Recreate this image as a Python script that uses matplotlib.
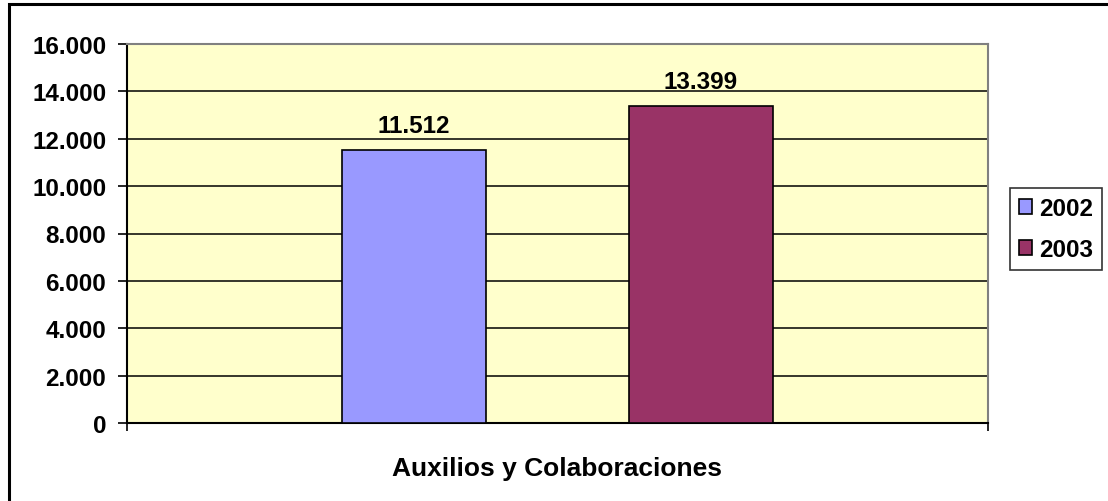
import matplotlib.pyplot as plt
from matplotlib.patches import Rectangle

plt.rcParams['font.family'] = ['Liberation Sans', 'DejaVu Sans']
plt.rcParams['font.weight'] = 'bold'

years = ['2002', '2003']
values = [11512, 13399]
labels = ['11.512', '13.399']
colors = ['#9999FF', '#993366']
category = 'Auxilios y Colaboraciones'
yticks = [0, 2000, 4000, 6000, 8000, 10000, 12000, 14000, 16000]
ytick_labels = ['0', '2.000', '4.000', '6.000', '8.000', '10.000', '12.000', '14.000', '16.000']

fs = 17.5

fig = plt.figure(figsize=(11.08, 5.02), dpi=100)
# outer chart border (only left/top visible in the reference)
fig.patches.append(Rectangle((9/1108, -0.05), 1.1, (502-5)/502 + 0.05, transform=fig.transFigure,
                             fill=False, edgecolor='black', linewidth=2.2))

ax = fig.add_axes([127/1108, 1 - 424/502, (988-127)/1108, (424-45)/502])
ax.set_facecolor('#FFFFCC')

xpos = [1/3, 2/3]
for i in range(len(years)):
    ax.bar(xpos[i], values[i], width=0.167, color=colors[i], edgecolor='black',
           linewidth=1.2, label=years[i], zorder=3)
    ax.text(xpos[i], values[i] + 760, labels[i], ha='center', va='baseline',
            fontsize=fs, fontweight='bold', zorder=4)

ax.set_xlim(0, 1)
ax.set_ylim(0, 16000)
ax.set_yticks(yticks)
ax.set_yticklabels(ytick_labels, fontsize=fs, fontweight='bold')
ax.yaxis.grid(True, color='black', linewidth=1.1, zorder=1)
ax.set_axisbelow(True)
ax.set_xticks([0, 1])
ax.set_xticklabels(['', ''])
ax.tick_params(axis='y', length=6.5, width=1.2, pad=8.5, direction='out')
ax.tick_params(axis='x', length=6, width=1.2, direction='out')
ax.set_xlabel(category, fontsize=19, fontweight='bold', labelpad=14)

ax.spines['left'].set_linewidth(1.5)
ax.spines['bottom'].set_linewidth(1.5)
ax.spines['top'].set_color('#808080')
ax.spines['right'].set_color('#808080')
ax.spines['top'].set_linewidth(1.5)
ax.spines['right'].set_linewidth(1.5)

leg = fig.legend(loc='center', bbox_to_anchor=(1056/1108, 1 - 230/502), fontsize=fs,
                 frameon=True, fancybox=False, handlelength=0.55, handleheight=0.55,
                 handletextpad=0.3, labelspacing=0.75, borderpad=0.35, borderaxespad=0)
leg.get_frame().set_edgecolor('black')
leg.get_frame().set_linewidth(1.2)
for t in leg.get_texts():
    t.set_fontweight('bold')

fig.savefig('out.png', dpi=100)
